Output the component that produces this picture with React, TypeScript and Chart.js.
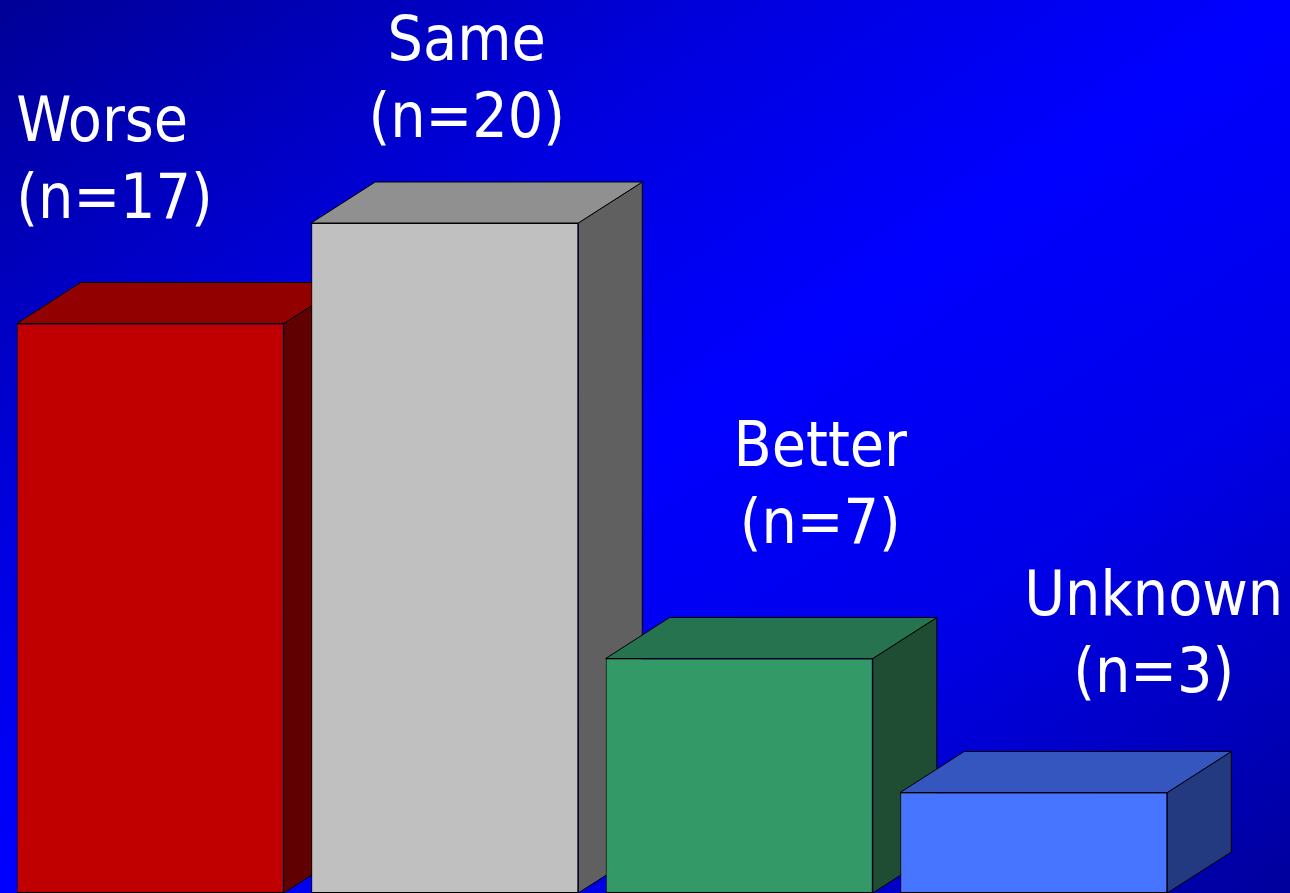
import React, { useEffect, useRef } from "react";
import { Chart, registerables } from "chart.js";

Chart.register(...registerables);

// ---- data ----
const categories = ["Worse", "Same", "Better", "Unknown"];
const counts = [17, 20, 7, 3];

// ---- styles ----
const frontColors = ["#C00000", "#C0C0C0", "#339966", "#4775FF"];
const topColors = ["#930000", "#909090", "#267350", "#3556BF"];
const sideColors = ["#600000", "#606060", "#1E4D33", "#233A80"];

// label layout (relative to each bar's centre / top)
const labelShiftX = [-134, 22, 81, 120];
const labelAlign: CanvasTextAlign[] = ["left", "center", "center", "center"];
const labelRise = [106, 86, 116, 101];

const DEPTH_X = 64;
const DEPTH_Y = 41;
const FONT = '62px "DejaVu Sans Condensed", "DejaVu Sans", sans-serif';
const LINE_GAP = 77;

const threeD = {
  id: "threeD",
  beforeDatasetsDraw(chart: any) {
    const ctx: CanvasRenderingContext2D = chart.ctx;
    const meta = chart.getDatasetMeta(0);
    ctx.save();
    ctx.lineWidth = 1;
    ctx.strokeStyle = "#000000";
    ctx.lineJoin = "miter";
    meta.data.forEach((el: any, i: number) => {
      const p = el.getProps(["x", "y", "width", "base"], true);
      const xl = p.x - p.width / 2;
      const xr = p.x + p.width / 2;
      const yt = p.y;
      const yb = p.base;
      // side face
      ctx.beginPath();
      ctx.moveTo(xr, yt);
      ctx.lineTo(xr + DEPTH_X, yt - DEPTH_Y);
      ctx.lineTo(xr + DEPTH_X, yb - DEPTH_Y);
      ctx.lineTo(xr, yb);
      ctx.closePath();
      ctx.fillStyle = sideColors[i];
      ctx.fill();
      ctx.stroke();
      // top face
      ctx.beginPath();
      ctx.moveTo(xl, yt);
      ctx.lineTo(xl + DEPTH_X, yt - DEPTH_Y);
      ctx.lineTo(xr + DEPTH_X, yt - DEPTH_Y);
      ctx.lineTo(xr, yt);
      ctx.closePath();
      ctx.fillStyle = topColors[i];
      ctx.fill();
      ctx.stroke();
    });
    ctx.restore();
  },
  afterDatasetsDraw(chart: any) {
    const ctx: CanvasRenderingContext2D = chart.ctx;
    const meta = chart.getDatasetMeta(0);
    ctx.save();
    ctx.font = FONT;
    ctx.fillStyle = "#FFFFFF";
    ctx.textBaseline = "alphabetic";
    meta.data.forEach((el: any, i: number) => {
      const p = el.getProps(["x", "y", "width"], true);
      const align = labelAlign[i];
      const x = align === "left" ? p.x - p.width / 2 : p.x + labelShiftX[i];
      const xx = align === "left" ? p.x + labelShiftX[i] : x;
      const y2 = p.y - labelRise[i];
      ctx.textAlign = align;
      ctx.fillText(categories[i], xx, y2 - LINE_GAP);
      ctx.fillText(`(n=${counts[i]})`, xx, y2);
    });
    ctx.restore();
  },
};

export default function App() {
  const ref = useRef<HTMLCanvasElement>(null);
  useEffect(() => {
    document.body.style.margin = "0";
    const chart = new Chart(ref.current!, {
      type: "bar",
      data: {
        labels: categories,
        datasets: [
          {
            data: counts,
            backgroundColor: frontColors,
            borderColor: "#000000",
            borderWidth: 1,
            borderSkipped: false,
            barPercentage: 0.907,
            categoryPercentage: 1,
          },
        ],
      },
      options: {
        animation: false,
        responsive: true,
        maintainAspectRatio: false,
        layout: { padding: { left: 3, right: 109, top: 0, bottom: 0 } },
        plugins: { legend: { display: false }, tooltip: { enabled: false } },
        scales: {
          x: { display: false },
          y: { display: false, min: 0, max: 893 / 33.5 },
        },
      },
      plugins: [threeD],
    });
    return () => chart.destroy();
  }, []);
  return (
    <div
      style={{
        position: "fixed",
        left: 0,
        top: 0,
        width: 1290,
        height: 893,
        background:
          "linear-gradient(to bottom right, #000096 0%, #0000E0 30%, #0000FF 50%, #0000E8 72%, #00009C 100%)",
      }}
    >
      <canvas ref={ref} />
    </div>
  );
}
